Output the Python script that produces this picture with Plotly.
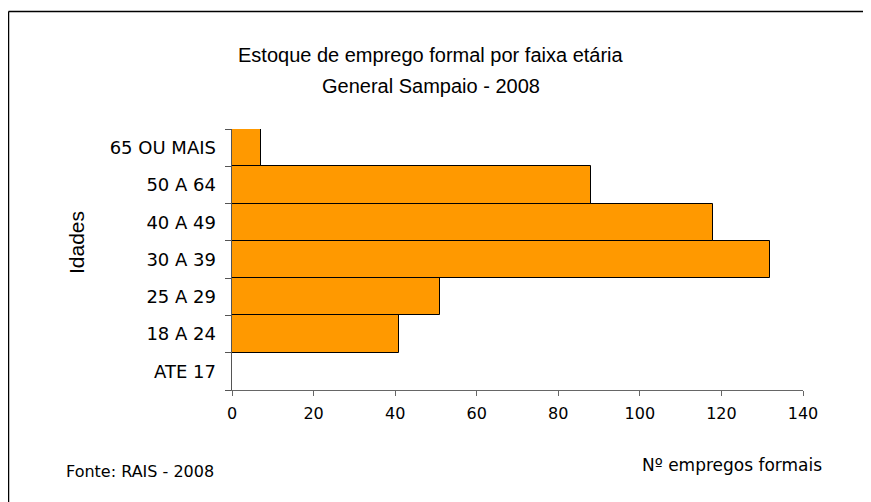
import plotly.graph_objects as go

# Dados (RAIS 2008 - General Sampaio)
faixas = ["ATE 17", "18 A 24", "25 A 29", "30 A 39", "40 A 49", "50 A 64", "65 OU MAIS"]
empregos = [0, 41, 51, 132, 118, 88, 7]
ticks_x = [0, 20, 40, 60, 80, 100, 120, 140]
titulo = ["Estoque de emprego formal por faixa etária", "General Sampaio - 2008"]

# A página tem margem de 8px no body; as coordenadas abaixo já descontam isso
W, H = 863, 494
L, R, T, B = 224, 68, 121, 112
PW, PH = W - L - R, H - T - B


def px(x):
    """x em pixels da figura -> coordenada paper"""
    return (x - L) / PW


def py(y):
    """y em pixels da figura (de cima) -> coordenada paper"""
    return (H - B - y) / PH


fig = go.Figure()
fig.add_trace(go.Bar(
    y=faixas, x=empregos, orientation="h",
    marker=dict(color="#FF9900", line=dict(color="#000000", width=1)),
    showlegend=False,
))

anot = [
    dict(text=titulo[0], x=px(423), y=py(47), font=dict(family="Liberation Sans", size=20)),
    dict(text=titulo[1], x=px(423), y=py(78), font=dict(family="Liberation Sans", size=20)),
    dict(text="Idades", x=px(68), y=py(235), textangle=-90,
         font=dict(family="Liberation Sans", size=21)),
    dict(text="Nº empregos formais", x=px(724), y=py(457),
         font=dict(family="DejaVu Sans", size=17)),
    dict(text="Fonte: RAIS - 2008", x=px(56), y=py(463), xanchor="left",
         font=dict(family="DejaVu Sans", size=16)),
]
for a in anot:
    a.setdefault("xanchor", "center")
    a.update(xref="paper", yref="paper", yanchor="middle", showarrow=False)

fig.update_layout(
    width=W, height=H,
    margin=dict(l=L, r=R, t=T, b=B),
    paper_bgcolor="white", plot_bgcolor="white",
    bargap=0,
    font=dict(family="DejaVu Sans", size=15, color="#000000"),
    xaxis=dict(
        range=[0, 140], tickvals=ticks_x, showgrid=False, zeroline=False,
        showline=True, linecolor="#666666", ticks="outside", ticklen=5,
        tickcolor="#666666", tickfont=dict(family="DejaVu Sans", size=16),
        ticklabelstandoff=4,
    ),
    yaxis=dict(
        showgrid=False, zeroline=False, showline=True, linecolor="#555555",
        ticks="outside", tickson="boundaries", ticklen=6, tickcolor="#555555",
        tickfont=dict(family="DejaVu Sans", size=18), ticksuffix="  ",
    ),
    annotations=anot,
)

# Moldura externa: só as bordas esquerda e superior aparecem
fig.add_shape(type="line", xref="paper", yref="paper",
              x0=px(0.5), x1=px(W + 20), y0=py(3.5), y1=py(3.5),
              line=dict(color="#000000", width=1.5))
fig.add_shape(type="line", xref="paper", yref="paper",
              x0=px(0.5), x1=px(0.5), y0=py(3.5), y1=py(H + 20),
              line=dict(color="#000000", width=1.5))

fig.write_html("out.html")
